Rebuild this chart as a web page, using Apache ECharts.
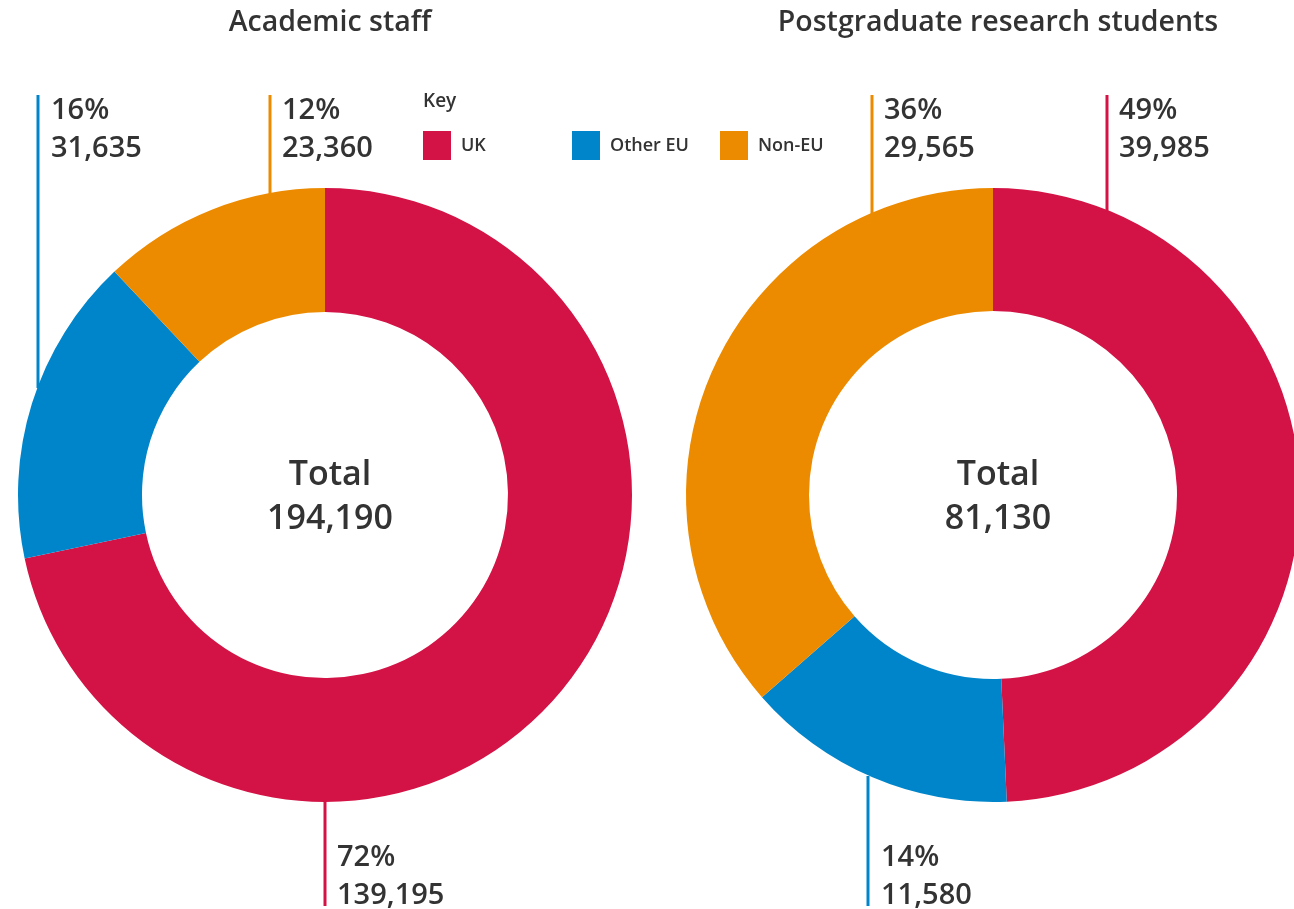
<!DOCTYPE html>
<html>
<head>
<meta charset="utf-8">
<script src="https://cdn.jsdelivr.net/npm/echarts@6/dist/echarts.min.js"></script>
<style>
  html, body { margin: 0; padding: 0; background: #fff; }
  #main { width: 1294px; height: 909px; }
</style>
</head>
<body>
<div id="main"></div>
<script>
// data
var categories = ['UK', 'Other EU', 'Non-EU'];
var staffValues = [139195, 31635, 23360];
var pgrValues = [39985, 11580, 29565];
var colors = ['#D31245', '#0085CA', '#ED8B00'];

var font = 'Open Sans';
var textColor = '#333333';

function fmt(n) {
  return n.toString().replace(/\B(?=(\d{3})+(?!\d))/g, ',');
}
function sum(arr) {
  return arr.reduce(function (a, b) { return a + b; }, 0);
}

var staffTotal = sum(staffValues);
var pgrTotal = sum(pgrValues);

function toData(values) {
  return values.map(function (v, i) {
    return { name: categories[i], value: v, itemStyle: { color: colors[i] } };
  });
}

// label callouts: [which chart, slice index, line x, line top, line bottom, text x, text y]
var callouts = [
  ['staff', 1, 38, 95, 388, 51, 92],
  ['staff', 2, 270, 95, 194, 282, 92],
  ['staff', 0, 325, 801, 906, 337, 839],
  ['pgr', 2, 872, 95, 215, 884, 92],
  ['pgr', 0, 1107, 95, 212, 1119, 92],
  ['pgr', 1, 868, 776, 906, 881, 839]
];

var graphics = [];
callouts.forEach(function (c) {
  var vals = c[0] == 'staff' ? staffValues : pgrValues;
  var total = c[0] == 'staff' ? staffTotal : pgrTotal;
  var v = vals[c[1]];
  graphics.push({
    type: 'line',
    shape: { x1: c[2], y1: c[3], x2: c[2], y2: c[4] },
    style: { stroke: colors[c[1]], lineWidth: 3 },
    z: 10
  });
  graphics.push({
    type: 'text',
    x: c[5],
    y: c[6],
    style: {
      text: Math.round(v / total * 100) + '%\n' + fmt(v),
      font: '600 29px "' + font + '"',
      fill: textColor,
      lineHeight: 38
    },
    z: 10
  });
});

// key label
graphics.push({
  type: 'text',
  x: 423,
  y: 92,
  style: { text: 'Key', font: '600 19px "' + font + '"', fill: textColor }
});

// one legend box per category, so they sit at the key's fixed spacing
var legendLefts = [423, 572, 720];
var legends = categories.map(function (name, i) {
  return {
    data: [name],
    left: legendLefts[i],
    top: 131,
    padding: 0,
    icon: 'rect',
    itemWidth: 28,
    itemHeight: 29,
    selectedMode: false,
    textStyle: {
      fontFamily: font, fontSize: 18, fontWeight: 600, color: textColor,
      padding: [0, 0, 0, 5]
    }
  };
});

var chart = echarts.init(document.getElementById('main'));

var option = {
  animation: false,
  title: [
    {
      text: 'Academic staff',
      left: 325, top: 3, textAlign: 'center',
      textStyle: { fontFamily: font, fontSize: 28.5, fontWeight: 600, color: textColor }
    },
    {
      text: 'Postgraduate research students',
      left: 993, top: 3, textAlign: 'center',
      textStyle: { fontFamily: font, fontSize: 28.5, fontWeight: 600, color: textColor }
    },
    {
      text: 'Total\n' + fmt(staffTotal),
      left: 325, top: 448, textAlign: 'center',
      textStyle: { fontFamily: font, fontSize: 34, fontWeight: 600, color: textColor, lineHeight: 44 }
    },
    {
      text: 'Total\n' + fmt(pgrTotal),
      left: 993, top: 448, textAlign: 'center',
      textStyle: { fontFamily: font, fontSize: 34, fontWeight: 600, color: textColor, lineHeight: 44 }
    }
  ],
  legend: legends,
  graphic: graphics,
  series: [
    {
      name: 'Academic staff',
      type: 'pie',
      center: [325, 495],
      radius: [183, 307],
      startAngle: 90,
      clockwise: true,
      label: { show: false },
      labelLine: { show: false },
      emphasis: { disabled: true },
      data: toData(staffValues)
    },
    {
      name: 'Postgraduate research students',
      type: 'pie',
      center: [993, 495],
      radius: [184, 307],
      startAngle: 90,
      clockwise: true,
      label: { show: false },
      labelLine: { show: false },
      emphasis: { disabled: true },
      data: toData(pgrValues)
    }
  ]
};

chart.setOption(option);
</script>
</body>
</html>
